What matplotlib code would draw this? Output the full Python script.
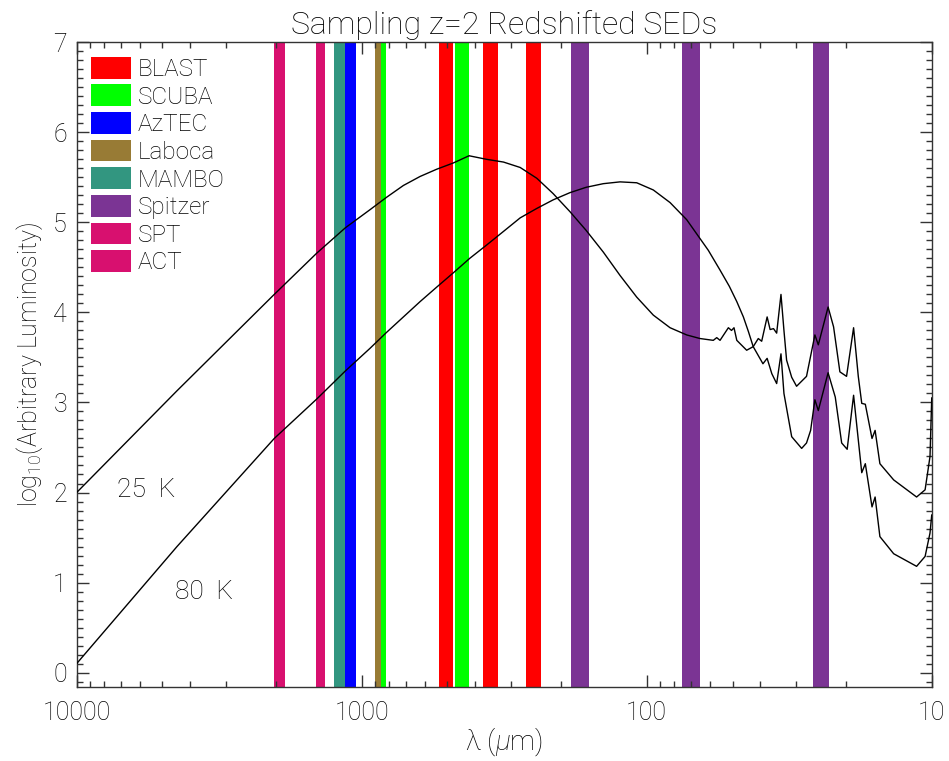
import numpy as np
import matplotlib
matplotlib.use('Agg')
import matplotlib.pyplot as plt
from matplotlib.patches import Patch
from matplotlib.ticker import FixedLocator, LogLocator, MultipleLocator, NullFormatter, FuncFormatter

plt.rcParams['font.family'] = ['Roboto', 'DejaVu Sans']
plt.rcParams['font.weight'] = 'light'
plt.rcParams['axes.titleweight'] = 'light'
plt.rcParams['axes.labelweight'] = 'light'
plt.rcParams['mathtext.fontset'] = 'custom'
plt.rcParams['mathtext.rm'] = 'Roboto:light'
plt.rcParams['mathtext.it'] = 'Roboto:italic:light'

# passband edges (micron) for each instrument
blast_bands = [(479.5, 535.6), (333.3, 375.3), (235.5, 265.9)]
scuba_bands = [(420.3, 470.6), (823.8, 857.7)]
aztec_bands = [(1047, 1144)]
laboca_bands = [(857.7, 900.5)]
mambo_bands = [(1144, 1251)]
spitzer_bands = [(159.4, 184.4), (65.0, 75.0), (23.0, 26.0)]
spt_bands = [(1858, 2032), (1345, 1447)]
act_bands = [(1858, 2032), (1345, 1447)]

instruments = ['BLAST', 'SCUBA', 'AzTEC', 'Laboca', 'MAMBO', 'Spitzer', 'SPT', 'ACT']
colors = ['#FF0000', '#00FF00', '#0000FF', '#987B35', '#329680', '#7B3494', '#D8106F', '#D8106F']
bands = [blast_bands, scuba_bands, aztec_bands, laboca_bands,
         mambo_bands, spitzer_bands, spt_bands, act_bands]

# redshifted SEDs, observed wavelength (micron) vs log10 L
lam_25k = [10000, 4446, 2027, 1436, 1141, 936, 817, 714, 624, 546, 477, 420, 364, 318, 278,
           243, 213, 186, 163, 142, 124, 108.4, 94.8, 82.8, 72.4, 65.0, 58.4, 56.8, 55.3,
           51.7, 50.4, 49.4, 48.3, 44.6, 42.3, 40.6, 39.5, 37.8, 36.9, 35.9, 35.0, 33.8,
           33.0, 32.3, 31.0, 29.8, 27.5, 25.7, 25.0, 23.1, 22.1, 21.0, 19.9, 18.8, 18.1,
           17.6, 17.1, 16.2, 15.8, 15.2, 13.6, 11.3, 10.55, 10.14, 10.0]
logL_25k = [2.00, 3.13, 4.20, 4.66, 4.94, 5.14, 5.28, 5.41, 5.51, 5.59, 5.66, 5.74, 5.70, 5.67, 5.61,
            5.49, 5.32, 5.12, 4.91, 4.67, 4.41, 4.17, 3.97, 3.83, 3.75, 3.71, 3.69, 3.72, 3.69,
            3.83, 3.80, 3.83, 3.69, 3.58, 3.62, 3.71, 3.68, 3.95, 3.81, 3.82, 3.77, 4.20,
            3.80, 3.47, 3.28, 3.18, 3.29, 3.75, 3.64, 4.06, 3.84, 3.34, 3.29, 3.83, 3.29,
            2.99, 2.98, 2.60, 2.69, 2.32, 2.14, 1.95, 2.03, 2.40, 3.05]

lam_80k = [10000, 4446, 2027, 1436, 1141, 936, 817, 714, 624, 546, 477, 418, 364, 318, 278,
           243, 213, 186, 163, 142, 124, 108.4, 94.8, 82.8, 72.4, 60.8, 55.3, 51.3, 48.3,
           45.8, 44.0, 42.3, 39.1, 37.8, 36.4, 35.0, 33.8, 33.0, 31.0, 28.6, 27.5, 26.6,
           25.7, 25.0, 23.1, 21.8, 20.7, 19.8, 18.8, 17.6, 17.1, 16.2, 15.8, 15.2, 13.6,
           11.3, 10.55, 10.14, 10.0]
logL_80k = [0.10, 1.40, 2.60, 3.04, 3.35, 3.60, 3.78, 3.95, 4.12, 4.28, 4.44, 4.60, 4.75, 4.90, 5.05,
            5.155, 5.25, 5.33, 5.39, 5.43, 5.45, 5.44, 5.36, 5.22, 5.03, 4.69, 4.47, 4.29, 4.12,
            3.95, 3.79, 3.62, 3.43, 3.49, 3.32, 3.21, 3.54, 3.10, 2.62, 2.49, 2.55, 2.69,
            3.03, 2.91, 3.33, 3.06, 2.55, 2.48, 3.08, 2.22, 2.32, 1.84, 1.95, 1.51, 1.32,
            1.18, 1.29, 1.55, 1.75]

fig = plt.figure(figsize=(9.49, 7.61), dpi=100)
ax = fig.add_axes([0.0808, 0.0969, 0.9010, 0.8475])

for bl, c in zip(bands, colors):
    for lo, hi in bl:
        ax.axvspan(lo, hi, color=c, lw=0, zorder=1)

ax.plot(lam_25k, logL_25k, color='k', lw=1, zorder=3)
ax.plot(lam_80k, logL_80k, color='k', lw=1, zorder=3)

ax.set_xscale('log')
ax.set_xlim(10000, 10)
ax.set_ylim(-0.163, 7.0)

ax.xaxis.set_major_locator(FixedLocator([10000, 1000, 100, 10]))
ax.xaxis.set_major_formatter(FuncFormatter(lambda v, p: f'{v:g}'))
ax.xaxis.set_minor_locator(LogLocator(base=10, subs=np.arange(2, 10)))
ax.xaxis.set_minor_formatter(NullFormatter())
ax.yaxis.set_major_locator(MultipleLocator(1))
ax.yaxis.set_minor_locator(MultipleLocator(0.1))

ax.tick_params(which='both', direction='in', top=True, right=True, color='#333333', width=1)
ax.tick_params(which='major', length=8.6, labelsize=18)
ax.tick_params(axis='x', which='major', pad=10)
ax.tick_params(axis='y', which='major', pad=7)
ax.tick_params(which='minor', length=4.3)
for s in ax.spines.values():
    s.set_color('#333333')
    s.set_linewidth(1)

ax.text(7226, 2.03, '25  K', fontsize=19, va='center')
ax.text(4529, 0.9, '80  K', fontsize=19, va='center')

handles = [Patch(facecolor=c, edgecolor='none') for c in colors]
ax.legend(handles, instruments, loc='upper left', frameon=False, fontsize=17.5,
          handlelength=1.65, handleheight=1.0, handletextpad=0.25, labelspacing=0.14,
          borderaxespad=0.3, borderpad=0.3)

ax.set_title('Sampling z=2 Redshifted SEDs', fontsize=23, pad=6)
ax.set_xlabel(r'λ ($\mu$m)', fontsize=20, labelpad=0)
ax.set_ylabel(r'log$_{10}$(Arbitrary Luminosity)', fontsize=18, labelpad=6)

fig.savefig('out.png', dpi=100)
